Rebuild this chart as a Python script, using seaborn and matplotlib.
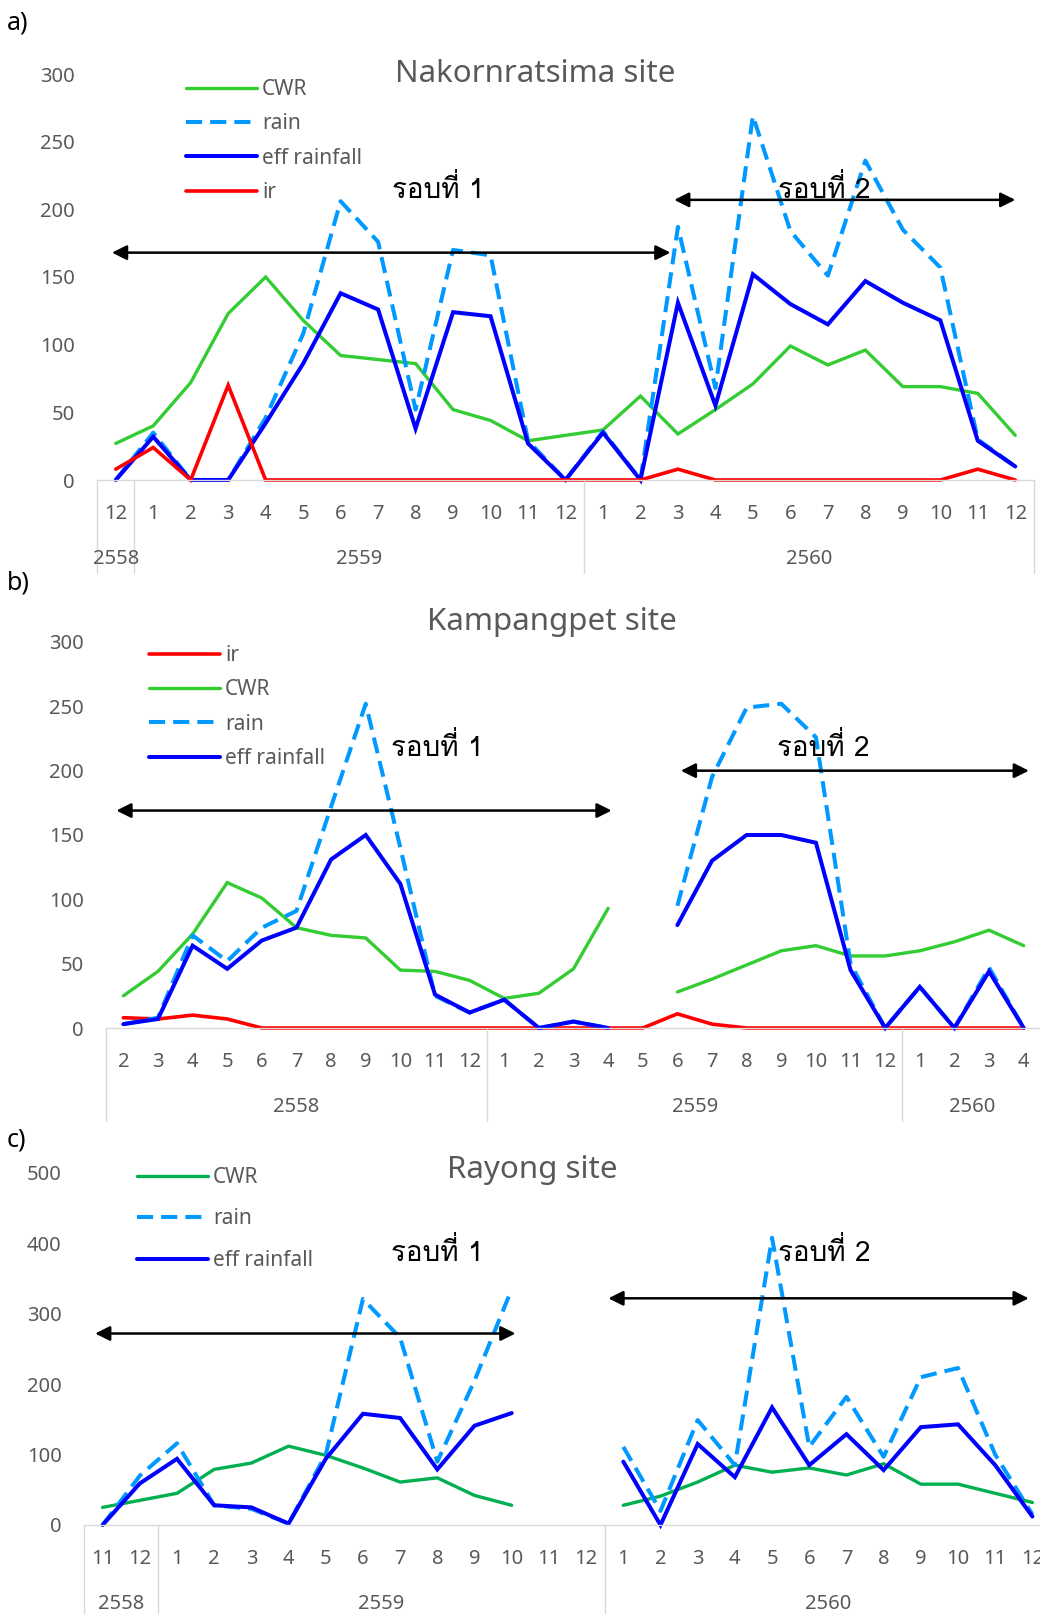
"""
Monthly CWR / rain / effective rainfall / irrigation at three sites
"""
import numpy as np
import pandas as pd
import matplotlib
matplotlib.use("Agg")
import matplotlib.pyplot as plt
import matplotlib.transforms as mtransforms
from matplotlib.lines import Line2D
import seaborn as sns

sns.set_theme(style="white")
plt.rcParams['font.family'] = ['Noto Sans', 'DejaVu Sans']
THAI = ['Loma', 'Noto Sans Thai', 'DejaVu Sans']

## a) Nakornratsima
a_months = [12, 1, 2, 3, 4, 5, 6, 7, 8, 9, 10, 11, 12, 1, 2, 3, 4, 5, 6, 7, 8, 9, 10, 11, 12]
a_years = ["2558", "2559", "2560"]
a_year_len = [1, 12, 12]
a_cwr = [27, 40, 72, 123, 150, 118, 92, 89, 86, 52, 44, 29, 33,
         37, 62, 34, 52, 71, 99, 85, 96, 69, 69, 64, 33]
a_rain = [0, 35, 0, 0, 46, 108, 206, 176, 52, 170, 166, 29, 0,
          36, 0, 187, 68, 269, 184, 151, 236, 185, 157, 30, 10]
a_eff = [0, 32, 0, 0, 42, 86, 138, 126, 38, 124, 121, 27, 0,
         35, 0, 131, 55, 152, 130, 115, 147, 131, 118, 29, 10]
a_ir = [8, 24, 0, 70, 0, 0, 0, 0, 0, 0, 0, 0, 0,
        0, 0, 8, 0, 0, 0, 0, 0, 0, 0, 8, 0]

## b) Kampangpet
b_months = [2, 3, 4, 5, 6, 7, 8, 9, 10, 11, 12,
            1, 2, 3, 4, 5, 6, 7, 8, 9, 10, 11, 12, 1, 2, 3, 4]
b_years = ["2558", "2559", "2560"]
b_year_len = [11, 12, 4]
b_ir = [8, 7, 10, 7, 0, 0, 0, 0, 0, 0, 0,
        0, 0, 0, 0, 0, 11, 3, 0, 0, 0, 0, 0, 0, 0, 0, 0]
b_cwr = [25, 44, 73, 113, 101, 78, 72, 70, 45, 44, 37,
         23, 27, 46, 93, np.nan, 28, 38, 49, 60, 64, 56, 56, 60, 67, 76, 64]
b_rain = [3, 8, 72, 52, 78, 91, 172, 252, 140, 25, 12,
          22, 0, 5, 0, np.nan, 95, 195, 249, 252, 226, 50, 0, 32, 0, 47, 0]
b_eff = [3, 7, 64, 46, 68, 78, 131, 150, 112, 26, 12,
         22, 0, 5, 0, np.nan, 80, 130, 150, 150, 144, 45, 0, 32, 0, 44, 0]

## c) Rayong
c_months = [11, 12, 1, 2, 3, 4, 5, 6, 7, 8, 9, 10, 11, 12,
            1, 2, 3, 4, 5, 6, 7, 8, 9, 10, 11, 12]
c_years = ["2558", "2559", "2560"]
c_year_len = [2, 12, 12]
c_cwr = [25, 35, 45, 79, 88, 112, 99, 81, 61, 67, 42, 28, np.nan, np.nan,
         28, 41, 61, 85, 75, 81, 71, 87, 58, 58, 45, 32]
c_rain = [0, 70, 116, 28, 23, 2, 100, 321, 266, 90, 205, 335, np.nan, np.nan,
          111, 20, 149, 85, 408, 111, 182, 97, 210, 223, 100, 15]
c_eff = [0, 59, 94, 28, 25, 2, 94, 158, 152, 79, 141, 159, np.nan, np.nan,
         90, 0, 115, 68, 167, 85, 129, 78, 139, 143, 85, 12]

GREY = "#595959"
AXGREY = "#D9D9D9"
W, H = 1040, 1614

styles = {
    "CWR": dict(color="#33CC33", lw=2.4, ls="-"),
    "CWR_c": dict(color="#00B050", lw=2.4, ls="-"),
    "rain": dict(color="#0099FF", lw=2.9, ls=(0, (4, 2))),
    "eff rainfall": dict(color="#0000FF", lw=2.9, ls="-"),
    "ir": dict(color="#FF0000", lw=2.6, ls="-"),
}


def draw_series(ax, values, st):
    y = np.array(values, dtype=float)
    x = np.arange(len(y))
    ok = ~np.isnan(y)
    # break the line where data is missing
    seg_id = np.cumsum(~ok)
    for s in np.unique(seg_id[ok]):
        m = ok & (seg_id == s)
        df = pd.DataFrame({"x": x[m], "y": y[m]})
        sns.lineplot(data=df, x="x", y="y", ax=ax, color=st["color"],
                     linewidth=st["lw"], linestyle=st["ls"], clip_on=False,
                     solid_joinstyle="miter", dash_capstyle="butt")


def px_axes(left, right, y0, ytop):
    return [left / W, 1 - y0 / H, (right - left) / W, (y0 - ytop) / H]


def setup_axis(ax, months, years, year_len, ymax, ystep, ax_h_px):
    n = len(months)
    ax.set_xlim(-0.5, n - 0.5)
    ax.set_ylim(0, ymax)
    ax.set_yticks(np.arange(0, ymax + 1, ystep))
    ax.set_xticks(np.arange(n))
    ax.set_xticklabels([str(m) for m in months])
    ax.tick_params(axis="x", length=0, pad=17.5, labelsize=14.5, labelcolor=GREY)
    ax.tick_params(axis="y", length=0, pad=16, labelsize=14.5, labelcolor=GREY)
    ax.set_xlabel("")
    ax.set_ylabel("")
    for sp in ["top", "right", "left"]:
        ax.spines[sp].set_visible(False)
    ax.spines["bottom"].set_color(AXGREY)
    ax.spines["bottom"].set_linewidth(1.0)
    trans = mtransforms.blended_transform_factory(ax.transData, ax.transAxes)
    edges = np.concatenate([[0], np.cumsum(year_len)]) - 0.5
    for e in edges:
        ax.plot([e, e], [0, -93 / ax_h_px], color=AXGREY, lw=1.0,
                transform=trans, clip_on=False)
    for yr, a, b in zip(years, edges[:-1], edges[1:]):
        ax.text((a + b) / 2, -79 / ax_h_px, yr, transform=trans, ha="center",
                va="center", fontsize=14.5, color=GREY)


def add_legend(fig, ax, names, keys, x_px, y_px, spacing):
    handles = [Line2D([0], [0], color=styles[k]["color"], lw=styles[k]["lw"],
                      ls=styles[k]["ls"]) for k in keys]
    leg = ax.legend(handles, names, loc="upper left",
                    bbox_to_anchor=(x_px / W, 1 - y_px / H),
                    bbox_transform=fig.transFigure, frameon=False,
                    handlelength=3.4, handletextpad=0.25, labelspacing=spacing,
                    borderpad=0, borderaxespad=0, fontsize=15)
    for t in leg.get_texts():
        t.set_color(GREY)


def add_round(ax, x0, x1, y, tx, ty, label):
    ax.annotate("", xy=(x1, y), xytext=(x0, y),
                arrowprops=dict(arrowstyle="<|-|>", color="black", lw=1.8,
                                mutation_scale=22, shrinkA=0, shrinkB=0),
                annotation_clip=False)
    ax.text(tx, ty, label, ha="center", va="center", fontsize=20,
            color="black", family=THAI)


fig = plt.figure(figsize=(W / 100, H / 100), dpi=100)

## panel a
ax_a = fig.add_axes(px_axes(97, 1034, 480, 74))
for key in ["CWR", "rain", "eff rainfall", "ir"]:
    vals = {"CWR": a_cwr, "rain": a_rain, "eff rainfall": a_eff, "ir": a_ir}[key]
    draw_series(ax_a, vals, styles[key])
setup_axis(ax_a, a_months, a_years, a_year_len, 300, 50, 406)
add_legend(fig, ax_a, ["CWR", "rain", "eff rainfall", "ir"],
           ["CWR", "rain", "eff rainfall", "ir"], 186, 79, 0.64)
add_round(ax_a, -0.1, 14.8, 168, 8.6, 215, "รอบที่ 1")
add_round(ax_a, 14.9, 24.0, 207, 18.9, 215, "รอบที่ 2")
fig.text(535 / W, 1 - 74 / H, "Nakornratsima site", ha="center", va="center",
         fontsize=22.5, color=GREY)
fig.text(7 / W, 1 - 23 / H, "a)", ha="left", va="center", fontsize=18, color="black")

## panel b
ax_b = fig.add_axes(px_axes(106, 1041, 1028, 642))
for key in ["ir", "CWR", "rain", "eff rainfall"]:
    vals = {"CWR": b_cwr, "rain": b_rain, "eff rainfall": b_eff, "ir": b_ir}[key]
    draw_series(ax_b, vals, styles[key])
setup_axis(ax_b, b_months, b_years, b_year_len, 300, 50, 386)
add_legend(fig, ax_b, ["ir", "CWR", "rain", "eff rainfall"],
           ["ir", "CWR", "rain", "eff rainfall"], 149, 645, 0.64)
add_round(ax_b, -0.2, 14.1, 169, 9.06, 218, "รอบที่ 1")
add_round(ax_b, 16.1, 26.15, 200, 20.2, 218, "รอบที่ 2")
fig.text(552 / W, 1 - 622 / H, "Kampangpet site", ha="center", va="center",
         fontsize=22.5, color=GREY)
fig.text(7 / W, 1 - 583 / H, "b)", ha="left", va="center", fontsize=18, color="black")

## panel c
ax_c = fig.add_axes(px_axes(84, 1051, 1525, 1173))
for key in ["CWR_c", "rain", "eff rainfall"]:
    vals = {"CWR_c": c_cwr, "rain": c_rain, "eff rainfall": c_eff}[key]
    draw_series(ax_c, vals, styles[key])
setup_axis(ax_c, c_months, c_years, c_year_len, 500, 100, 352)
add_legend(fig, ax_c, ["CWR", "rain", "eff rainfall"],
           ["CWR_c", "rain", "eff rainfall"], 137, 1167, 0.98)
add_round(ax_c, -0.2, 11.1, 272, 9.0, 387, "รอบที่ 1")
add_round(ax_c, 13.6, 24.9, 322, 19.4, 387, "รอบที่ 2")
fig.text(532 / W, 1 - 1170 / H, "Rayong site", ha="center", va="center",
         fontsize=22.5, color=GREY)
fig.text(7 / W, 1 - 1140 / H, "c)", ha="left", va="center", fontsize=18, color="black")

fig.savefig("out.png", dpi=100)
